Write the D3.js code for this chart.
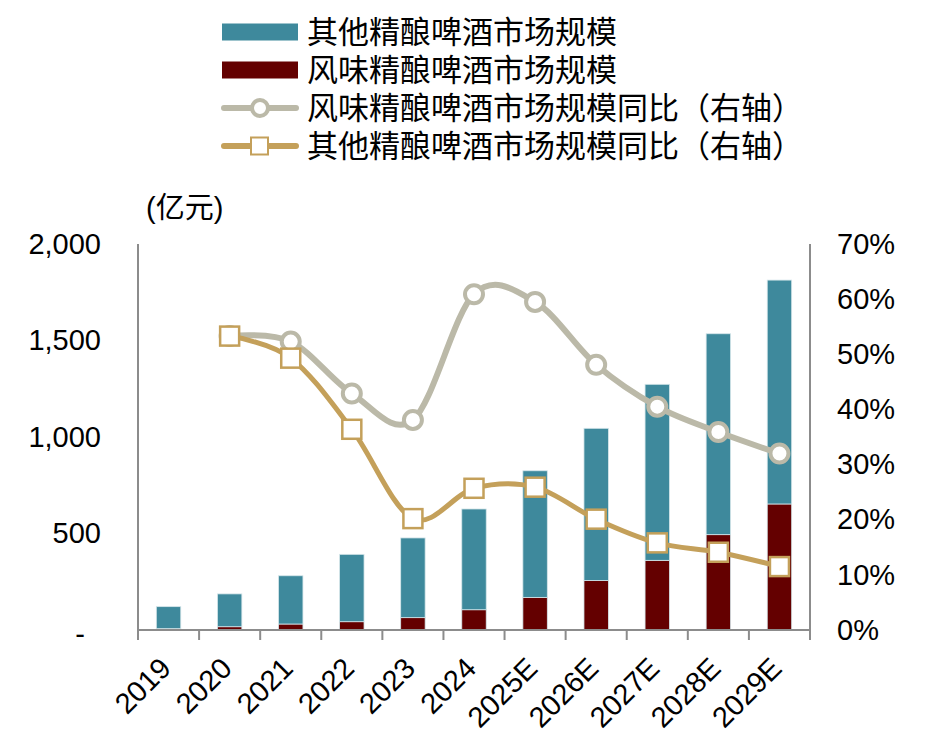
<!DOCTYPE html>
<html lang="zh-CN">
<head>
    <meta charset="UTF-8">
    <title>精酿啤酒市场规模</title>
    <script src="https://cdnjs.cloudflare.com/ajax/libs/d3/7.8.5/d3.min.js"></script>
    <style>
        body {
            margin: 0;
            background: #fff;
        }
        text {
            font-family: "Liberation Sans", Arial, "Noto Sans CJK SC", sans-serif;
            fill: #000;
        }
        .cjk {
            font-family: "Noto Sans CJK SC", sans-serif;
        }
        .axis path, .axis line {
            stroke: #8c8c8c;
            stroke-width: 2px;
        }
    </style>
</head>
<body>
    <svg id="chart" width="931" height="748"></svg>

    <script>
        // data
        const years = ['2019', '2020', '2021', '2022', '2023', '2024', '2025E', '2026E', '2027E', '2028E', '2029E'];
        const flavoredSize = [7, 17, 31, 43, 64, 105, 169, 256, 361, 494, 653];
        const otherSize = [114, 170, 250, 349, 413, 522, 656, 789, 912, 1041, 1160];
        const flavoredYoY = [null, 53.3, 52.3, 42.9, 38.1, 60.9, 59.5, 48.1, 40.5, 35.9, 32.0];
        const otherYoY = [null, 53.3, 49.3, 36.4, 20.2, 25.7, 25.9, 20.1, 15.8, 14.1, 11.5];
        const leftTicks = [0, 500, 1000, 1500, 2000];
        const rightTicks = [0, 10, 20, 30, 40, 50, 60, 70];

        const colors = {
            other: '#3e899c',
            flavored: '#640000',
            flavoredLine: '#bbb9a8',
            otherLine: '#c4a05a'
        };

        const svg = d3.select('#chart');
        const plot = { left: 138, right: 810, top: 244, bottom: 630 };

        const x = d3.scaleBand()
            .domain(years)
            .range([plot.left, plot.right])
            .paddingInner(0.6)
            .paddingOuter(0.3);

        const xTicks = d3.scaleBand().domain(years).range([plot.left, plot.right]);

        const yLeft = d3.scaleLinear().domain([0, 2000]).range([plot.bottom, plot.top]);
        const yRight = d3.scaleLinear().domain([0, 70]).range([plot.bottom, plot.top]);

        // stacked bars
        const rows = years.map((y, i) => ({ year: y, flavored: flavoredSize[i], other: otherSize[i] }));
        const stack = d3.stack().keys(['flavored', 'other'])(rows);

        svg.append('g')
            .selectAll('g')
            .data(stack)
            .join('g')
            .attr('fill', d => colors[d.key])
            .selectAll('rect')
            .data(d => d)
            .join('rect')
            .attr('x', d => x(d.data.year))
            .attr('width', x.bandwidth())
            .attr('y', d => yLeft(d[1]))
            .attr('height', d => yLeft(d[0]) - yLeft(d[1]))
            .attr('stroke', '#d6e6ea')
            .attr('stroke-width', 0.8);

        // left axis
        const axL = svg.append('g')
            .attr('class', 'axis')
            .attr('transform', `translate(${plot.left},0)`)
            .call(d3.axisLeft(yLeft)
                .tickValues(leftTicks)
                .tickSize(0)
                .tickPadding(37)
                .tickFormat(d => d === 0 ? '-' : d3.format(',')(d)));
        axL.select('.domain').attr('d', `M0,${plot.top}V${plot.bottom}`);
        axL.selectAll('text').attr('font-size', 29).attr('font-family', null);
        axL.selectAll('.tick').filter(d => d === 0).select('text').attr('dx', -16).attr('dy', '0.45em');

        // right axis
        const axR = svg.append('g')
            .attr('class', 'axis')
            .attr('transform', `translate(${plot.right},0)`)
            .call(d3.axisRight(yRight)
                .tickValues(rightTicks)
                .tickSize(0)
                .tickPadding(27)
                .tickFormat(d => d + '%'));
        axR.select('.domain').attr('d', `M0,${plot.top}V${plot.bottom}`);
        axR.selectAll('text').attr('font-size', 29).attr('font-family', null);

        // bottom axis
        const axB = svg.append('g')
            .attr('transform', `translate(0,${plot.bottom})`);
        axB.append('line')
            .attr('x1', plot.left).attr('x2', plot.right)
            .attr('stroke', '#8c8c8c').attr('stroke-width', 2);
        axB.selectAll('.tk')
            .data(years.concat(['end']))
            .join('line')
            .attr('class', 'tk')
            .attr('x1', d => d === 'end' ? plot.right : xTicks(d))
            .attr('x2', d => d === 'end' ? plot.right : xTicks(d))
            .attr('y1', 0).attr('y2', 10)
            .attr('stroke', '#8c8c8c').attr('stroke-width', 2);
        axB.selectAll('.lbl')
            .data(years)
            .join('text')
            .attr('class', 'lbl')
            .attr('text-anchor', 'end')
            .attr('font-size', 29)
            .attr('transform', d => `translate(${xTicks(d) + xTicks.bandwidth() / 2 + 4},${40}) rotate(-45)`)
            .text(d => d);

        // yoy lines
        const pts = arr => years.map((y, i) => ({ year: y, v: arr[i] })).filter(d => d.v !== null);
        const line = d3.line()
            .x(d => x(d.year) + x.bandwidth() / 2)
            .y(d => yRight(d.v))
            .curve(d3.curveCardinal.tension(0));

        svg.append('path')
            .datum(pts(flavoredYoY))
            .attr('d', line)
            .attr('fill', 'none')
            .attr('stroke', colors.flavoredLine)
            .attr('stroke-width', 6);

        svg.append('g')
            .selectAll('circle')
            .data(pts(flavoredYoY))
            .join('circle')
            .attr('cx', d => x(d.year) + x.bandwidth() / 2)
            .attr('cy', d => yRight(d.v))
            .attr('r', 9)
            .attr('fill', '#fff')
            .attr('stroke', colors.flavoredLine)
            .attr('stroke-width', 4);

        svg.append('path')
            .datum(pts(otherYoY))
            .attr('d', line)
            .attr('fill', 'none')
            .attr('stroke', colors.otherLine)
            .attr('stroke-width', 5);

        svg.append('g')
            .selectAll('rect')
            .data(pts(otherYoY))
            .join('rect')
            .attr('x', d => x(d.year) + x.bandwidth() / 2 - 9.5)
            .attr('y', d => yRight(d.v) - 9.5)
            .attr('width', 19)
            .attr('height', 19)
            .attr('fill', '#fff')
            .attr('stroke', colors.otherLine)
            .attr('stroke-width', 2.5);

        // unit label
        svg.append('text')
            .attr('x', 146)
            .attr('y', 218)
            .attr('font-size', 29)
            .text('(亿元)');

        // legend
        const legend = [
            { name: '其他精酿啤酒市场规模', type: 'bar', color: colors.other },
            { name: '风味精酿啤酒市场规模', type: 'bar', color: colors.flavored },
            { name: '风味精酿啤酒市场规模同比（右轴）', type: 'circle', color: colors.flavoredLine },
            { name: '其他精酿啤酒市场规模同比（右轴）', type: 'square', color: colors.otherLine }
        ];
        const lg = svg.append('g')
            .selectAll('g')
            .data(legend)
            .join('g')
            .attr('transform', (d, i) => `translate(222,${32 + i * 38})`);

        lg.filter(d => d.type === 'bar').append('rect')
            .attr('x', 0).attr('y', -8.5).attr('width', 76).attr('height', 17)
            .attr('fill', d => d.color);
        lg.filter(d => d.type !== 'bar').append('line')
            .attr('x1', 2).attr('x2', 74)
            .attr('stroke', d => d.color).attr('stroke-width', 6)
            .attr('stroke-linecap', 'round');
        lg.filter(d => d.type === 'circle').append('circle')
            .attr('cx', 38).attr('r', 8)
            .attr('fill', '#fff').attr('stroke', d => d.color).attr('stroke-width', 4);
        lg.filter(d => d.type === 'square').append('rect')
            .attr('x', 29).attr('y', -8.5).attr('width', 17).attr('height', 17)
            .attr('fill', '#fff').attr('stroke', d => d.color).attr('stroke-width', 2);
        lg.append('text')
            .attr('class', 'cjk')
            .attr('x', 85)
            .attr('dy', '0.36em')
            .attr('font-size', 31)
            .text(d => d.name);
    </script>
</body>
</html>
